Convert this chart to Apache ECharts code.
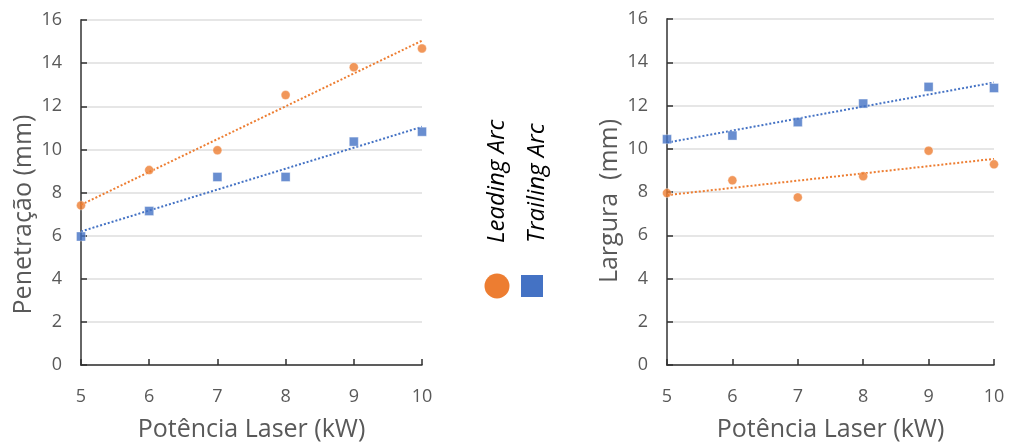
<!DOCTYPE html>
<html>
<head>
<meta charset="utf-8">
<title>Penetração e Largura vs Potência Laser</title>
<script src="https://cdn.jsdelivr.net/npm/echarts@6/dist/echarts.min.js"></script>
<style>
  html, body { margin: 0; padding: 0; background: #ffffff; }
  #chart { width: 1009px; height: 447px; }
</style>
</head>
<body>
<div id="chart"></div>
<script>
// Laser power settings (kW)
const power = [5, 6, 7, 8, 9, 10];

// Penetration (mm)
const penetrationLeading = [7.40, 9.04, 9.96, 12.52, 13.81, 14.68];
const penetrationTrailing = [5.96, 7.14, 8.72, 8.72, 10.36, 10.82];

// Bead width (mm)
const widthLeading = [7.95, 8.54, 7.75, 8.73, 9.91, 9.28];
const widthTrailing = [10.44, 10.61, 11.23, 12.09, 12.86, 12.81];

// Axis ranges
const xRange = { min: 5, max: 10, interval: 1 };
const yRange = { min: 0, max: 16, interval: 2 };

const seriesNames = ['Leading Arc', 'Trailing Arc'];
const ORANGE = '#ED7D31';
const BLUE = '#4472C4';
const FONT = "'Open Sans', 'Noto Sans', sans-serif";
const TEXT_GREY = '#595959';

// Least-squares linear trend line, evaluated at the ends of the x range
function linearTrend(xs, ys) {
  const n = xs.length;
  const mx = xs.reduce((a, b) => a + b, 0) / n;
  const my = ys.reduce((a, b) => a + b, 0) / n;
  let sxy = 0, sxx = 0;
  for (let i = 0; i < n; i++) {
    sxy += (xs[i] - mx) * (ys[i] - my);
    sxx += (xs[i] - mx) * (xs[i] - mx);
  }
  const slope = sxy / sxx;
  const icpt = my - slope * mx;
  const x0 = Math.min(...xs), x1 = Math.max(...xs);
  return [[x0, icpt + slope * x0], [x1, icpt + slope * x1]];
}

const pairs = (xs, ys) => xs.map((x, i) => [x, ys[i]]);

function xAxisFor(gridIndex) {
  return {
    type: 'value', gridIndex,
    min: xRange.min, max: xRange.max, interval: xRange.interval,
    name: 'Potência Laser (kW)',
    nameLocation: 'middle', nameGap: 52,
    nameTextStyle: { fontFamily: FONT, fontSize: 25, color: TEXT_GREY },
    axisLine: { show: true, lineStyle: { color: '#303030', width: 1.5 } },
    axisTick: { show: true, inside: true, length: 6, lineStyle: { color: '#303030', width: 1.5 } },
    axisLabel: { fontFamily: FONT, fontSize: 18, color: TEXT_GREY, margin: 23 },
    splitLine: { show: false }
  };
}

function yAxisFor(gridIndex, title, pad) {
  return {
    type: 'value', gridIndex,
    min: yRange.min, max: yRange.max, interval: yRange.interval,
    name: title,
    nameLocation: 'middle', nameGap: 45,
    nameTextStyle: { fontFamily: FONT, fontSize: 25, color: TEXT_GREY, padding: pad },
    axisLine: { show: true, lineStyle: { color: '#666666', width: 2 } },
    axisTick: { show: true, inside: true, length: 6, lineStyle: { color: '#303030', width: 1.5 } },
    axisLabel: { fontFamily: FONT, fontSize: 18, color: TEXT_GREY, margin: 19 },
    splitLine: { show: true, lineStyle: { color: '#dedede', width: 1.5 } }
  };
}

function pointSeries(name, idx, data, color, symbol) {
  return {
    name, type: 'scatter', xAxisIndex: idx, yAxisIndex: idx,
    data, symbol, symbolSize: 9, z: 5,
    itemStyle: { color, borderColor: 'rgba(255,255,255,0.45)', borderWidth: 1 },
    emphasis: { disabled: true }
  };
}

function trendSeries(idx, data, color) {
  return {
    type: 'line', xAxisIndex: idx, yAxisIndex: idx,
    data, showSymbol: false, symbol: 'none', z: 3, silent: true,
    lineStyle: { color, width: 2, type: [2, 2], cap: 'butt' }
  };
}

const option = {
  backgroundColor: '#ffffff',
  animation: false,
  textStyle: { fontFamily: FONT },
  grid: [
    { left: 81, top: 20, width: 341, height: 348 },
    { left: 667, top: 19, width: 327, height: 353 }
  ],
  xAxis: [xAxisFor(0), xAxisFor(1)],
  yAxis: [
    yAxisFor(0, 'Penetração (mm)', [0, 44, 0, 0]),
    yAxisFor(1, 'Largura  (mm)', [0, 18, 0, 0])
  ],
  series: [
    trendSeries(0, linearTrend(power, penetrationLeading), ORANGE),
    trendSeries(0, linearTrend(power, penetrationTrailing), BLUE),
    pointSeries(seriesNames[0], 0, pairs(power, penetrationLeading), ORANGE, 'circle'),
    pointSeries(seriesNames[1], 0, pairs(power, penetrationTrailing), BLUE, 'rect'),
    trendSeries(1, linearTrend(power, widthLeading), ORANGE),
    trendSeries(1, linearTrend(power, widthTrailing), BLUE),
    pointSeries(seriesNames[0], 1, pairs(power, widthLeading), ORANGE, 'circle'),
    pointSeries(seriesNames[1], 1, pairs(power, widthTrailing), BLUE, 'rect')
  ],
  // Shared legend between the two panels: vertical italic labels with their markers below
  graphic: [
    {
      type: 'text', x: 497, y: 243, rotation: Math.PI / 2,
      style: { text: seriesNames[0], font: "italic 24px " + FONT, fill: '#000000',
               textAlign: 'left', textVerticalAlign: 'middle' }
    },
    {
      type: 'text', x: 537, y: 243, rotation: Math.PI / 2,
      style: { text: seriesNames[1], font: "italic 24px " + FONT, fill: '#000000',
               textAlign: 'left', textVerticalAlign: 'middle' }
    },
    {
      type: 'circle', shape: { cx: 497, cy: 286, r: 12.5 },
      style: { fill: ORANGE }
    },
    {
      type: 'rect', shape: { x: 521, y: 275, width: 22, height: 22 },
      style: { fill: BLUE }
    }
  ]
};

const chart = echarts.init(document.getElementById('chart'), null, { renderer: 'canvas' });
chart.setOption(option);
</script>
</body>
</html>
